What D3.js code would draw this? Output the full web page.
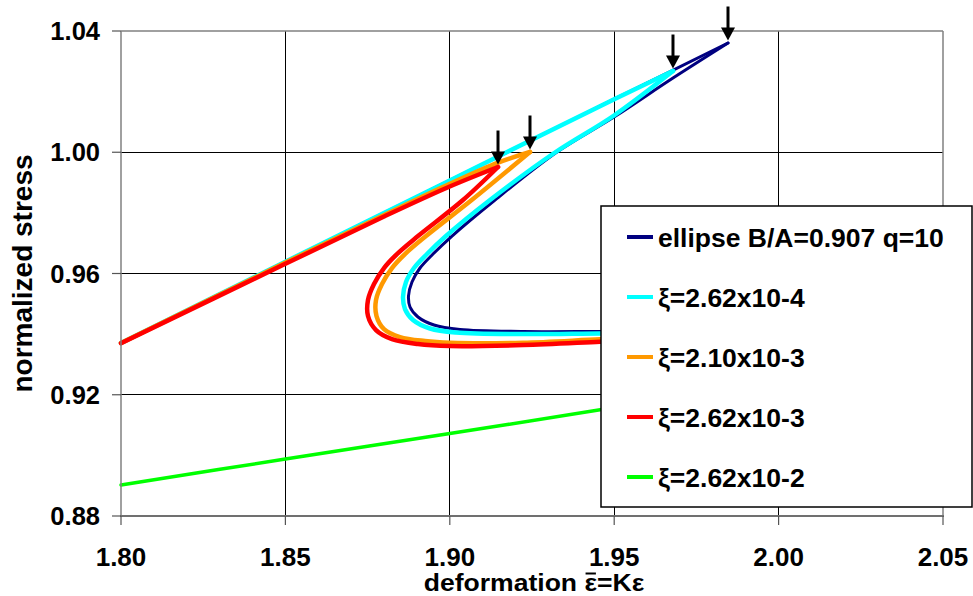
<!DOCTYPE html>
<html>
<head>
<meta charset="utf-8">
<script src="https://cdn.jsdelivr.net/npm/d3@7"></script>
<style>
  html, body { margin: 0; padding: 0; background: #fff; }
  svg { display: block; }
  text { font-family: "Liberation Sans", Arial, Helvetica, sans-serif; font-weight: bold; fill: #000; }
</style>
</head>
<body>
<script>
// ---------- data ----------
const xTicks = [1.80, 1.85, 1.90, 1.95, 2.00, 2.05];
const yTicks = [0.88, 0.92, 0.96, 1.00, 1.04];
const xTickLabels = ["1.80", "1.85", "1.90", "1.95", "2.00", "2.05"];
const yTickLabels = ["0.88", "0.92", "0.96", "1.00", "1.04"];

const seriesNames = ["ellipse B/A=0.907 q=10", "ξ=2.62x10-4", "ξ=2.10x10-3", "ξ=2.62x10-3", "ξ=2.62x10-2"];
const seriesColors = ["#000080", "#00FFFF", "#FF9900", "#FF0000", "#00FF00"];

const ellipseX = [1.800, 1.850, 1.900, 1.950, 1.98461, 1.96788, 1.94994, 1.93260, 1.91375, 1.90067, 1.89489, 1.89094, 1.88850, 1.88744, 1.88790, 1.89033, 1.89519, 1.90310, 1.92226, 1.94568, 1.95785];
const ellipseY = [0.9371, 0.9639, 0.9907, 1.0175, 1.03604, 1.02449, 1.01163, 1.00008, 0.98424, 0.97236, 0.96643, 0.96181, 0.95719, 0.95257, 0.94894, 0.94564, 0.94300, 0.94152, 0.94086, 0.94086, 0.94086];

const xi1X = [1.800, 1.850, 1.900, 1.950, 1.96788, 1.94994, 1.93220, 1.91223, 1.89884, 1.89307, 1.88911, 1.88668, 1.88577, 1.88637, 1.88881, 1.89398, 1.90189, 1.92226, 1.94568, 1.95785];
const xi1Y = [0.9371, 0.9639, 0.9907, 1.0175, 1.02680, 1.01213, 1.00008, 0.98424, 0.97236, 0.96643, 0.96181, 0.95719, 0.95224, 0.94828, 0.94465, 0.94185, 0.94053, 0.94003, 0.94020, 0.94020];

const xi2X = [1.800, 1.850, 1.880, 1.900, 1.9147, 1.92439, 1.90666, 1.89276, 1.88637, 1.88242, 1.87938, 1.87755, 1.87771, 1.87999, 1.88485, 1.89246, 1.90006, 1.92226, 1.94568, 1.95785];
const xi2Y = [0.9371, 0.9636, 0.9793, 0.9896, 0.9966, 1.00008, 0.98424, 0.97236, 0.96643, 0.96181, 0.95653, 0.95125, 0.94597, 0.94168, 0.93904, 0.93772, 0.93716, 0.93716, 0.93828, 0.93871];

const xi3X = [1.800, 1.850, 1.880, 1.900, 1.91466, 1.90401, 1.89033, 1.88394, 1.87999, 1.87695, 1.87512, 1.87512, 1.87755, 1.88242, 1.89033, 1.90006, 1.92226, 1.94568, 1.95785];
const xi3Y = [0.9370, 0.9632, 0.9788, 0.9887, 0.99513, 0.98424, 0.97236, 0.96643, 0.96181, 0.95653, 0.95125, 0.94597, 0.94135, 0.93838, 0.93673, 0.93607, 0.93640, 0.93749, 0.93805];

const xi4X = [1.80, 1.85, 1.90, 1.95, 1.97];
const xi4Y = [0.8902, 0.8988, 0.9072, 0.9158, 0.9195];

// ---------- layout ----------
const W = 973, H = 596;
const plot = { left: 121, right: 943, top: 31, bottom: 516 };

const svg = d3.select("body").append("svg").attr("width", W).attr("height", H);
svg.append("rect").attr("width", W).attr("height", H).attr("fill", "#fff");

const x = d3.scaleLinear().domain([xTicks[0], xTicks[xTicks.length - 1]]).range([plot.left, plot.right]);
const y = d3.scaleLinear().domain([yTicks[0], yTicks[yTicks.length - 1]]).range([plot.bottom, plot.top]);

// grid
const grid = svg.append("g");
grid.selectAll("line.gx").data(xTicks.slice(1, -1)).join("line")
  .attr("x1", d => x(d)).attr("x2", d => x(d))
  .attr("y1", plot.top).attr("y2", plot.bottom)
  .attr("stroke", "#000").attr("stroke-width", 1).attr("shape-rendering", "crispEdges");
grid.selectAll("line.gy").data(yTicks.slice(1, -1)).join("line")
  .attr("y1", d => y(d)).attr("y2", d => y(d))
  .attr("x1", plot.left).attr("x2", plot.right)
  .attr("stroke", "#000").attr("stroke-width", 1).attr("shape-rendering", "crispEdges");

// border (top/right)
svg.append("line").attr("x1", plot.left).attr("x2", plot.right).attr("y1", plot.top).attr("y2", plot.top)
  .attr("stroke", "#808080").attr("stroke-width", 1.5);
svg.append("line").attr("x1", plot.right).attr("x2", plot.right).attr("y1", plot.top).attr("y2", plot.bottom)
  .attr("stroke", "#808080").attr("stroke-width", 1.5);

// curves
const seriesData = [
  [ellipseX, ellipseY],
  [xi1X, xi1Y],
  [xi2X, xi2Y],
  [xi3X, xi3Y],
  [xi4X, xi4Y]
].map(([xs, ys]) => xs.map((v, i) => [v, ys[i]]));
const widths = [3, 4.5, 4.5, 4.5, 3.5];

const line = d3.line().x(d => x(d[0])).y(d => y(d[1])).curve(d3.curveCatmullRom.alpha(0.5));

function tipIndex(pts) {
  for (let i = 0; i < pts.length - 1; i++) if (pts[i + 1][0] < pts[i][0]) return i;
  return -1;
}

const curves = svg.append("g").attr("fill", "none").attr("stroke-linejoin", "round").attr("stroke-linecap", "round");
seriesData.forEach((pts, k) => {
  const t = tipIndex(pts);
  const pieces = t < 0 ? [pts] : [pts.slice(0, t + 1), pts.slice(t)];
  pieces.forEach(p => {
    curves.append("path").attr("d", line(p))
      .attr("stroke", seriesColors[k]).attr("stroke-width", widths[k]);
  });
});

// axes (left & bottom)
svg.append("line").attr("x1", plot.left).attr("x2", plot.left).attr("y1", plot.top).attr("y2", plot.bottom + 1)
  .attr("stroke", "#808080").attr("stroke-width", 1.5);
svg.append("line").attr("x1", plot.left - 1).attr("x2", plot.right + 1).attr("y1", plot.bottom).attr("y2", plot.bottom)
  .attr("stroke", "#707070").attr("stroke-width", 2);

// ticks
svg.selectAll("line.tx").data(xTicks).join("line")
  .attr("x1", d => x(d)).attr("x2", d => x(d)).attr("y1", plot.bottom).attr("y2", plot.bottom + 9)
  .attr("stroke", "#555").attr("stroke-width", 1.2);
svg.selectAll("line.ty").data(yTicks).join("line")
  .attr("y1", d => y(d)).attr("y2", d => y(d)).attr("x1", plot.left - 9).attr("x2", plot.left)
  .attr("stroke", "#555").attr("stroke-width", 1.2);

// tick labels
svg.selectAll("text.xl").data(xTicks).join("text")
  .attr("x", d => x(d)).attr("y", 566)
  .attr("text-anchor", "middle").attr("font-size", 26)
  .text((d, i) => xTickLabels[i]);
svg.selectAll("text.yl").data(yTicks).join("text")
  .attr("x", 100).attr("y", d => y(d) + 9)
  .attr("text-anchor", "end").attr("font-size", 25.5)
  .text((d, i) => yTickLabels[i]);

// x axis title (with overbar on the first epsilon)
const xtG = svg.append("g").attr("transform", `translate(${(plot.left + plot.right) / 2 + 2},591) scale(1.13,1)`);
const xt = xtG.append("text").attr("x", 0).attr("y", 0)
  .attr("text-anchor", "middle").attr("font-size", 23.5)
  .text("deformation ε=Kε");
const ext = xt.node().getExtentOfChar(12);
xtG.append("line")
  .attr("x1", ext.x + 1).attr("x2", ext.x + ext.width - 1)
  .attr("y1", -17.5).attr("y2", -17.5)
  .attr("stroke", "#000").attr("stroke-width", 2);

// y axis title
svg.append("text")
  .attr("transform", `translate(32,${(plot.top + plot.bottom) / 2}) rotate(-90)`)
  .attr("text-anchor", "middle").attr("font-size", 28)
  .text("normalized stress");

// legend
const lg = svg.append("g");
lg.append("rect").attr("x", 601).attr("y", 206).attr("width", 371).attr("height", 301)
  .attr("fill", "#fff").attr("stroke", "#000").attr("stroke-width", 1.5);
seriesNames.forEach((name, i) => {
  const ry = 237 + i * 60;
  lg.append("line").attr("x1", 627).attr("x2", 653).attr("y1", ry).attr("y2", ry)
    .attr("stroke", seriesColors[i]).attr("stroke-width", 4);
  lg.append("text").attr("x", 658).attr("y", ry + 9.5).attr("font-size", 26.5).text(name);
});

// arrows at the turning points
const arrows = svg.append("g");
seriesData.forEach(pts => {
  const t = tipIndex(pts);
  if (t < 0) return;
  const ax = x(pts[t][0]), ay = y(pts[t][1]) - 2.5;
  arrows.append("line").attr("x1", ax).attr("x2", ax).attr("y1", ay - 34).attr("y2", ay - 11)
    .attr("stroke", "#000").attr("stroke-width", 3);
  arrows.append("path").attr("d", `M${ax - 7},${ay - 13} L${ax + 7},${ay - 13} L${ax},${ay} Z`)
    .attr("fill", "#000");
});
</script>
</body>
</html>
